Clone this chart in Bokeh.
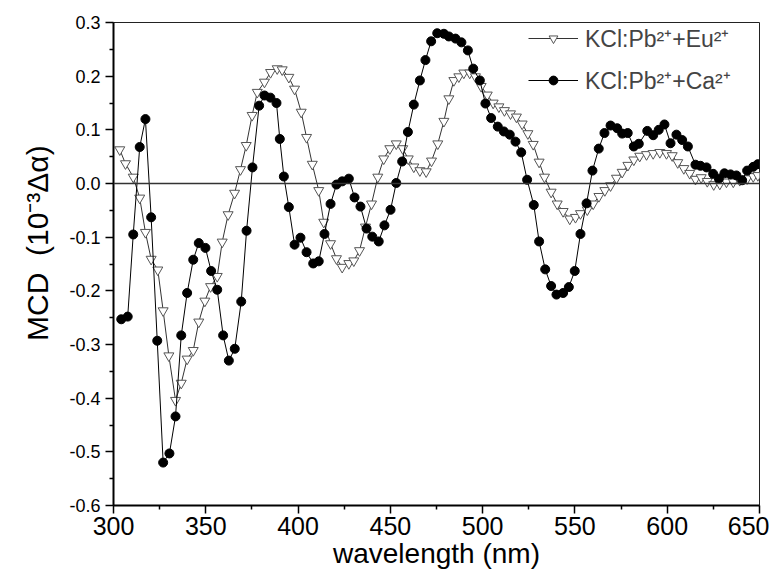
from bokeh.plotting import figure
from bokeh.models import (FixedTicker, PrintfTickFormatter, Span, Range1d,
                          Legend, LegendItem)
from bokeh.embed import file_html
from bokeh.resources import INLINE

eu_nm = [303.4, 306.5, 310.7, 314.2, 317.3, 320.4, 324.0, 326.9, 330.0, 333.6,
         336.7, 339.9, 343.2, 346.2, 349.5, 352.6, 356.2, 358.9, 362.1, 365.6,
         368.8, 371.9, 375.1, 377.9, 381.8, 385.1, 388.7, 391.4, 395.0, 398.1,
         401.7, 404.6, 407.7, 411.2, 413.9, 417.6, 420.8, 423.9, 427.5, 430.2,
         433.3, 436.5, 439.8, 443.2, 446.4, 449.7, 453.2, 456.7, 459.7, 462.7,
         466.0, 469.4, 472.3, 475.7, 479.0, 481.7, 484.4, 487.1, 489.8, 493.0,
         496.1, 499.2, 502.5, 505.7, 508.8, 511.8, 515.1, 518.3, 521.4, 524.5,
         527.4, 530.6, 533.5, 537.1, 540.4, 543.6, 547.2, 550.3, 553.0, 556.7,
         559.9, 563.0, 566.2, 569.3, 572.5, 575.6, 578.7, 581.9, 585.1, 588.8,
         592.4, 596.0, 599.6, 602.7, 605.7, 609.0, 612.2, 615.3, 618.4, 621.7,
         625.2, 628.5, 632.1, 635.8, 639.3, 643.3, 646.6, 649.1]
eu_mcd = [0.063, 0.037, 0.012, -0.027, -0.091, -0.141, -0.161, -0.237, -0.321, -0.404,
          -0.372, -0.327, -0.311, -0.258, -0.219, -0.192, -0.173, -0.109, -0.058, -0.018,
          0.026, 0.071, 0.127, 0.170, 0.189, 0.207, 0.214, 0.212, 0.198, 0.176,
          0.133, 0.086, 0.036, -0.013, -0.072, -0.112, -0.140, -0.156, -0.149, -0.144,
          -0.125, -0.081, -0.038, 0.012, 0.046, 0.065, 0.074, 0.065, 0.046, 0.031,
          0.024, 0.022, 0.042, 0.074, 0.116, 0.158, 0.192, 0.199, 0.206, 0.206,
          0.199, 0.181, 0.165, 0.150, 0.143, 0.136, 0.130, 0.124, 0.111, 0.093,
          0.073, 0.040, 0.012, -0.016, -0.038, -0.052, -0.066, -0.063, -0.056, -0.049,
          -0.038, -0.024, -0.013, -0.004, 0.010, 0.021, 0.034, 0.044, 0.051, 0.054,
          0.056, 0.058, 0.056, 0.052, 0.039, 0.028, 0.019, 0.008, 0.011, 0.004,
          -0.002, -0.001, 0.003, 0.003, 0.006, 0.009, 0.013, 0.015]

ca_nm = [304.2, 307.7, 310.7, 314.2, 317.3, 320.4, 323.7, 326.9, 330.3, 333.6,
         336.7, 339.9, 343.2, 346.2, 349.8, 352.9, 356.2, 359.4, 362.5, 365.7,
         369.2, 372.1, 375.3, 378.9, 381.8, 385.0, 388.3, 390.1, 392.3, 395.0,
         398.1, 401.3, 404.6, 408.2, 411.2, 414.3, 417.6, 420.8, 423.9, 427.5,
         430.6, 433.8, 437.1, 440.2, 443.7, 446.8, 450.1, 453.2, 456.4, 459.5,
         462.7, 466.0, 469.0, 472.1, 475.4, 479.0, 481.7, 485.3, 488.5, 492.0,
         494.9, 498.5, 501.5, 504.6, 508.2, 511.5, 514.7, 517.8, 520.9, 524.1,
         527.7, 530.6, 533.9, 537.1, 540.0, 543.6, 546.7, 549.9, 553.0, 556.3,
         559.5, 562.9, 566.0, 569.3, 572.9, 575.6, 578.6, 581.9, 584.6, 589.2,
         592.4, 595.4, 598.5, 601.8, 605.0, 608.1, 611.2, 615.3, 618.0, 621.3,
         624.9, 628.0, 631.0, 634.3, 637.5, 640.6, 643.3, 646.6, 649.1]
ca_mcd = [-0.253, -0.248, -0.095, 0.068, 0.120, -0.063, -0.293, -0.520, -0.503, -0.434,
          -0.283, -0.204, -0.142, -0.111, -0.120, -0.163, -0.198, -0.283, -0.330, -0.308,
          -0.220, -0.088, 0.030, 0.145, 0.164, 0.160, 0.150, 0.083, 0.013, -0.044,
          -0.114, -0.101, -0.128, -0.149, -0.145, -0.094, -0.038, -0.002, 0.004, 0.009,
          -0.026, -0.043, -0.084, -0.099, -0.108, -0.078, -0.049, 0.001, 0.041, 0.096,
          0.147, 0.192, 0.230, 0.265, 0.280, 0.279, 0.274, 0.270, 0.263, 0.248,
          0.214, 0.192, 0.149, 0.122, 0.106, 0.097, 0.091, 0.078, 0.058, 0.007,
          -0.040, -0.108, -0.160, -0.191, -0.207, -0.204, -0.193, -0.163, -0.094, -0.037,
          0.024, 0.065, 0.094, 0.108, 0.103, 0.093, 0.094, 0.069, 0.074, 0.098,
          0.090, 0.100, 0.110, 0.075, 0.091, 0.081, 0.069, 0.035, 0.033, 0.030,
          0.018, 0.009, 0.019, 0.017, 0.015, 0.006, 0.024, 0.031, 0.036]

x_major = [300, 350, 400, 450, 500, 550, 600, 650]
x_minor = [325, 375, 425, 475, 525, 575, 625]
y_major = [-0.6, -0.5, -0.4, -0.3, -0.2, -0.1, 0.0, 0.1, 0.2, 0.3]
y_minor = [-0.55, -0.45, -0.35, -0.25, -0.15, -0.05, 0.05, 0.15, 0.25]

label_eu = "KCl:Pb\u00b2\u207a+Eu\u00b2\u207a"
label_ca = "KCl:Pb\u00b2\u207a+Ca\u00b2\u207a"
x_title = "wavelength (nm)"
y_title = "\u00a0" * 5 + "MCD\u00a0\u00a0(10\u207b\u00b3\u0394\u03b1)"

FONT = "Liberation Sans"

p = figure(width=770, frame_width=646, frame_height=483,
           output_backend="svg", toolbar_location=None,
           x_range=Range1d(300, 650), y_range=Range1d(-0.6, 0.3),
           min_border_left=113, min_border_top=22, min_border_right=10,
           min_border_bottom=0)
p.grid.visible = False
p.outline_line_color = "#222222"
p.outline_line_width = 1
p.background_fill_color = "white"
p.border_fill_color = "white"

p.add_layout(Span(location=0, dimension="width", line_color="#333333", line_width=1.5))

l1 = p.line(eu_nm, eu_mcd, line_color="#333333", line_width=1)
s1 = p.scatter(eu_nm, eu_mcd, marker="inverted_triangle", size=10,
               fill_color="white", line_color="#555555", line_width=1)
l2 = p.line(ca_nm, ca_mcd, line_color="black", line_width=1)
s2 = p.scatter(ca_nm, ca_mcd, marker="circle", size=9,
               fill_color="black", line_color="black")

legend = Legend(items=[LegendItem(label=label_eu, renderers=[l1, s1]),
                       LegendItem(label=label_ca, renderers=[l2, s2])],
                location=(415, 409), border_line_color=None,
                background_fill_alpha=0, glyph_width=50, glyph_height=22,
                label_text_font=FONT, label_text_font_size="23px",
                label_height=22, label_standoff=7, spacing=10, padding=2, margin=0)
p.add_layout(legend)

for ax in (p.xaxis, p.yaxis):
    ax.axis_line_width = 2
    ax.axis_line_color = "black"
    ax.major_tick_line_color = "black"
    ax.minor_tick_line_color = "black"
    ax.major_tick_line_width = 1.5
    ax.minor_tick_line_width = 1.5
    ax.major_tick_out = 8
    ax.major_tick_in = 0
    ax.minor_tick_out = 4
    ax.minor_tick_in = 0
    ax.axis_label_text_font_style = "normal"
    ax.axis_label_text_color = "black"
    ax.major_label_text_color = "black"

p.xaxis.ticker = FixedTicker(ticks=x_major, minor_ticks=x_minor)
p.yaxis.ticker = FixedTicker(ticks=y_major, minor_ticks=y_minor)
p.yaxis.formatter = PrintfTickFormatter(format="%.1f")

p.xaxis.axis_label = x_title
p.yaxis.axis_label = y_title
p.xaxis.axis_label_text_font = FONT
p.xaxis.axis_label_text_font_size = "28px"
p.yaxis.axis_label_text_font = FONT
p.yaxis.axis_label_text_font_size = "30px"
p.xaxis.major_label_text_font = FONT
p.xaxis.major_label_text_font_size = "25px"
p.yaxis.major_label_text_font = FONT
p.yaxis.major_label_text_font_size = "18px"
p.xaxis.major_label_standoff = 3
p.xaxis.axis_label_standoff = 0
p.yaxis.major_label_standoff = 5
p.yaxis.axis_label_standoff = 12

open("out.html", "w").write(file_html(p, INLINE))
